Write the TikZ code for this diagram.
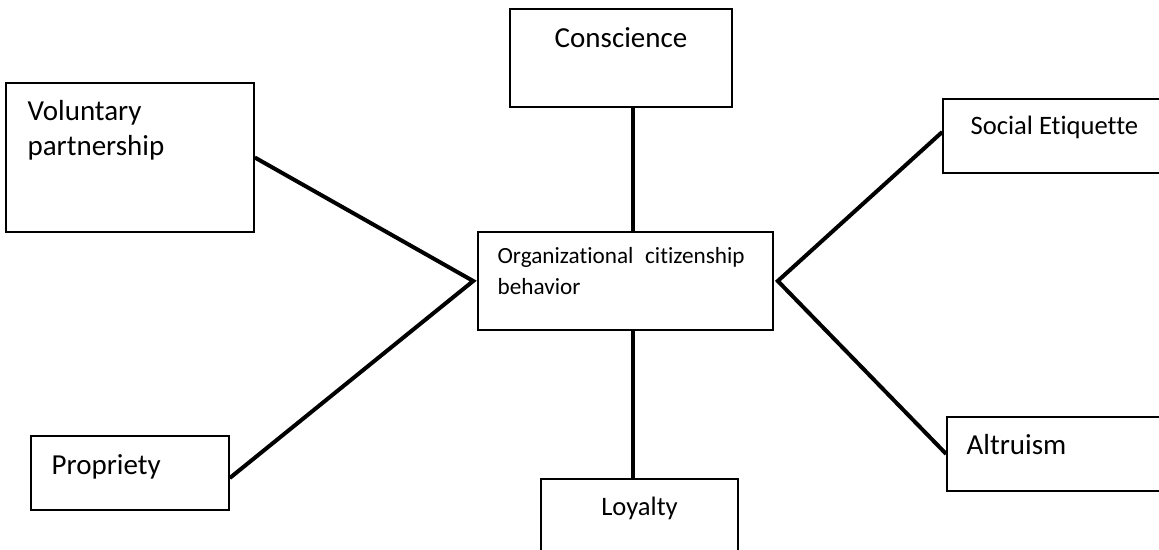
\documentclass[tikz,border=0pt]{standalone}
\usepackage{fontspec}
\setmainfont{Carlito}[Ligatures=NoCommon]
\usetikzlibrary{positioning, calc}

\begin{document}
\begin{tikzpicture}[
    x=0.5pt, y=-0.5pt,
    box/.style={rectangle, draw, line width=0.8pt, inner sep=0pt},
    caption/.style={inner sep=0pt, align=left, font=\fontsize{14.5}{17.5}\selectfont},
    link/.style={line width=2pt}
]
    \clip (0,0) rectangle (1159,550);

    \node[box, minimum width=147.5pt, minimum height=49pt] (ocb) at (625.5,281) {};
    \node[box, minimum width=111pt, minimum height=49pt] (cons) at (621,58) {};
    \node[box, minimum width=124pt, minimum height=74.5pt] (vol) at (130,157.5) {};
    \node[box, minimum width=116pt, minimum height=37pt] (social) at (1059,136) {};
    \node[box, minimum width=99pt, minimum height=37pt] (prop) at (130,473) {};
    \node[box, minimum width=114pt, minimum height=37pt] (altr) at (1061,454) {};
    \node[box, minimum width=98.5pt, minimum height=49pt] (loyal) at (639.5,528) {};

    \node[caption, anchor=north west, font=\fontsize{11.6}{15.5}\selectfont, text width=123.5pt] (ocbT) at ([xshift=10pt, yshift=-8pt]ocb.north west) {Organizational\hfill citizenship\\behavior};
    \node[caption, anchor=north] (consT) at ([yshift=-9.5pt]cons.north) {Conscience};
    \node[caption, anchor=north west] (volT) at ([xshift=11pt, yshift=-9pt]vol.north west) {Voluntary\\partnership};
    \node[caption, anchor=north west, font=\fontsize{13.3}{16}\selectfont] (socialT) at ([xshift=14pt, yshift=-8.5pt]social.north west) {Social Etiquette};
    \node[caption, anchor=north west] (propT) at ([xshift=10.5pt, yshift=-9.5pt]prop.north west) {Propriety};
    \node[caption, anchor=north west] (altrT) at ([xshift=10pt, yshift=-9pt]altr.north west) {Altruism};
    \node[caption, anchor=north, font=\fontsize{13.3}{16}\selectfont] (loyalT) at ([yshift=-9pt]loyal.north) {Loyalty};

    \coordinate (axis) at ($(cons.south west)!0.554!(cons.south east)$);
    \draw[link] (axis) -- (axis |- ocb.north);
    \draw[link] (axis |- ocb.south) -- (axis |- loyal.north);
    \draw[link] (vol.east) -- ([xshift=-2pt]ocb.west) -- ([yshift=-2.5pt]prop.east);
    \draw[link] ([yshift=2pt]social.west) -- ([xshift=2pt]ocb.east) -- (altr.west);
\end{tikzpicture}
\end{document}
